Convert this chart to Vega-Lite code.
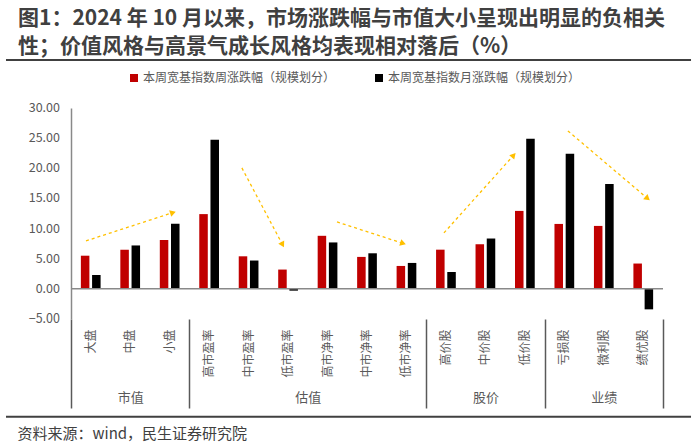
{
  "$schema": "https://vega.github.io/schema/vega-lite/v6.json",
  "width": 592,
  "height": 211,
  "autosize": {"type": "none"},
  "padding": {"left": 71, "top": 108, "right": 37, "bottom": 125},
  "background": "white",
  "config": {"font": "Noto Sans CJK SC", "view": {"stroke": null}},
  "title": {
    "text": ["图1：2024 年 10 月以来，市场涨跌幅与市值大小呈现出明显的负相关", "性；价值风格与高景气成长风格均表现相对落后（%）"],
    "anchor": "start",
    "frame": "group",
    "dx": -53,
    "offset": 2,
    "fontSize": 21,
    "fontWeight": "bold",
    "color": "#404040",
    "lineHeight": 28
  },
  "datasets": {
    "bars": [
      {"cat": "大盘", "w": 5.5, "m": 2.3},
      {"cat": "中盘", "w": 6.5, "m": 7.2},
      {"cat": "小盘", "w": 8.1, "m": 10.8},
      {"cat": "高市盈率", "w": 12.4, "m": 24.75},
      {"cat": "中市盈率", "w": 5.4, "m": 4.7},
      {"cat": "低市盈率", "w": 3.2, "m": -0.3},
      {"cat": "高市净率", "w": 8.8, "m": 7.7},
      {"cat": "中市净率", "w": 5.3, "m": 5.9},
      {"cat": "低市净率", "w": 3.8, "m": 4.3},
      {"cat": "高价股", "w": 6.5, "m": 2.8},
      {"cat": "中价股", "w": 7.4, "m": 8.35},
      {"cat": "低价股", "w": 12.93, "m": 24.9},
      {"cat": "亏损股", "w": 10.77, "m": 22.4},
      {"cat": "微利股", "w": 10.44, "m": 17.4},
      {"cat": "绩优股", "w": 4.2, "m": -3.4}
    ],
    "arrows": [
      {"x1": 0.38, "y1": 7.96, "x2": 2.56, "y2": 12.6},
      {"x1": 4.33, "y1": 20.06, "x2": 5.35, "y2": 7.46},
      {"x1": 6.74, "y1": 11.1, "x2": 8.39, "y2": 7.6},
      {"x1": 9.45, "y1": 9.28, "x2": 11.2, "y2": 22.05},
      {"x1": 12.59, "y1": 26.2, "x2": 14.59, "y2": 15.1}
    ],
    "yticks": [
      {"tick": -5}, {"tick": 0}, {"tick": 5}, {"tick": 10},
      {"tick": 15}, {"tick": 20}, {"tick": 25}, {"tick": 30}
    ]
  },
  "layer": [
    {
      "layer": [
        {
          "data": {"name": "bars"},
          "transform": [{"fold": ["w", "m"], "as": ["series", "value"]}],
          "mark": {"type": "bar"},
          "encoding": {
            "x": {
              "field": "cat",
              "type": "nominal",
              "sort": null,
              "scale": {"paddingInner": 0, "paddingOuter": 0},
              "axis": {
                "orient": "bottom",
                "title": null,
                "domain": false,
                "ticks": false,
                "tickSize": 0,
                "labelAngle": -90,
                "labelAlign": "right",
                "labelBaseline": "middle",
                "labelPadding": 10,
                "labelFontSize": 12,
                "labelColor": "#595959"
              }
            },
            "xOffset": {
              "field": "series",
              "sort": ["w", "m"],
              "scale": {"paddingInner": 0.24, "paddingOuter": 0.88}
            },
            "y": {
              "field": "value",
              "type": "quantitative",
              "scale": {"domain": [-5, 30], "nice": false, "zero": false},
              "axis": {
                "title": null,
                "labels": false,
                "grid": false,
                "ticks": false,
                "domain": true,
                "domainColor": "#898989",
                "domainWidth": 1.5
              }
            },
            "color": {
              "field": "series",
              "type": "nominal",
              "scale": {"domain": ["w", "m"], "range": ["#C00000", "#000000"]},
              "legend": {
                "title": null,
                "orient": "none",
                "legendX": 57,
                "legendY": -36,
                "direction": "horizontal",
                "symbolType": "square",
                "symbolSize": 64,
                "symbolStrokeWidth": 0,
                "labelFontSize": 12,
                "labelLimit": 400,
                "labelColor": "#595959",
                "columnPadding": 37,
                "labelOffset": 3,
                "labelExpr": "datum.label == 'w' ? '本周宽基指数周涨跌幅（规模划分）' : '本周宽基指数月涨跌幅（规模划分）'"
              }
            }
          }
        },
        {
          "data": {"values": [{}]},
          "mark": {"type": "rule", "color": "#898989", "strokeWidth": 1.5},
          "encoding": {
            "y": {"datum": 0, "type": "quantitative", "scale": {"domain": [-5, 30], "nice": false, "zero": false}}
          }
        }
      ]
    },
    {
      "layer": [
        {
          "data": {"name": "arrows"},
          "mark": {"type": "rule", "color": "#FFC000", "strokeWidth": 1.3, "strokeDash": [3, 3], "clip": false},
          "encoding": {
            "x": {
              "field": "x1",
              "type": "quantitative",
              "scale": {"domain": [0, 15], "nice": false, "zero": false},
              "axis": {
                "orient": "bottom",
                "values": [0, 1.5, 3, 6, 9, 10.5, 12, 13.5, 15],
                "grid": false,
                "domain": false,
                "tickSize": 89,
                "tickWidth": 1.5,
                "tickColor": "#595959",
                "tickOpacity": {"condition": {"test": "datum.value == 0 || datum.value == 3 || datum.value == 9 || datum.value == 12 || datum.value == 15", "value": 1}, "value": 0},
                "labelExpr": "datum.value == 1.5 ? '市值' : datum.value == 6 ? '估值' : datum.value == 10.5 ? '股价' : datum.value == 13.5 ? '业绩' : ''",
                "labelPadding": -17,
                "labelFontSize": 13,
                "labelColor": "#595959",
                "labelOverlap": false,
                "labelFlush": false,
                "labelBound": false,
                "title": "资料来源：wind，民生证券研究院",
                "titleAnchor": "start",
                "titleAlign": "left",
                "titleBaseline": "middle",
                "titleX": -54,
                "titleY": 114,
                "titleFontSize": 15,
                "titleFontWeight": "normal",
                "titleColor": "#404040"
              }
            },
            "x2": {"field": "x2"},
            "y": {"field": "y1", "type": "quantitative", "scale": {"domain": [-5, 30], "nice": false, "zero": false}},
            "y2": {"field": "y2"}
          }
        },
        {
          "data": {"name": "arrows"},
          "transform": [
            {"calculate": "atan2((datum.x2 - datum.x1) * 39.47, (datum.y2 - datum.y1) * 6.033) * 180 / PI", "as": "ang"}
          ],
          "mark": {"type": "point", "shape": "triangle", "filled": true, "color": "#FFC000", "opacity": 1, "size": 45, "clip": false},
          "encoding": {
            "x": {"field": "x2", "type": "quantitative", "scale": {"domain": [0, 15], "nice": false, "zero": false}},
            "y": {"field": "y2", "type": "quantitative", "scale": {"domain": [-5, 30], "nice": false, "zero": false}},
            "angle": {"field": "ang", "type": "quantitative", "scale": null}
          }
        },
        {
          "data": {"name": "yticks"},
          "mark": {"type": "text", "align": "right", "baseline": "middle", "fontSize": 12.5, "color": "#595959", "clip": false},
          "encoding": {
            "x": {"datum": -0.28, "type": "quantitative", "scale": {"domain": [0, 15], "nice": false, "zero": false}},
            "y": {"field": "tick", "type": "quantitative", "scale": {"domain": [-5, 30], "nice": false, "zero": false}},
            "text": {"field": "tick", "type": "quantitative", "format": ".2f"}
          }
        },
        {
          "data": {"values": [{"pos": "top"}]},
          "mark": {"type": "rule", "color": "#404040", "strokeWidth": 2, "clip": false},
          "encoding": {
            "x": {"datum": -1.647, "type": "quantitative", "scale": {"domain": [0, 15], "nice": false, "zero": false}},
            "x2": {"datum": 15.71},
            "y": {"datum": 37.96, "type": "quantitative", "scale": {"domain": [-5, 30], "nice": false, "zero": false}}
          }
        },
        {
          "data": {"values": [{"pos": "bottom"}]},
          "mark": {"type": "rule", "color": "#404040", "strokeWidth": 2, "clip": false},
          "encoding": {
            "x": {"datum": -1.647, "type": "quantitative", "scale": {"domain": [0, 15], "nice": false, "zero": false}},
            "x2": {"datum": 15.71},
            "y": {"datum": -21.2, "type": "quantitative", "scale": {"domain": [-5, 30], "nice": false, "zero": false}}
          }
        }
      ]
    }
  ],
  "resolve": {"scale": {"x": "independent"}}
}
